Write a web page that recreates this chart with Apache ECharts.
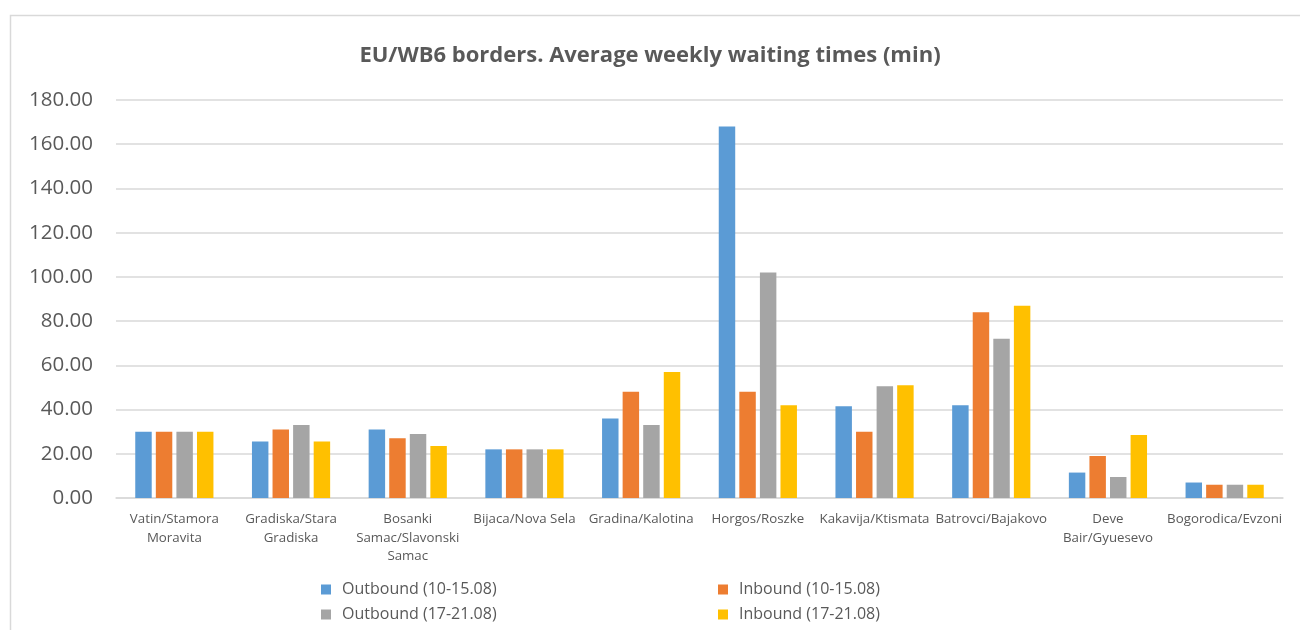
<!DOCTYPE html>
<html>
<head>
<meta charset="utf-8">
<script src="https://cdn.jsdelivr.net/npm/echarts@6/dist/echarts.min.js"></script>
<style>
html,body{margin:0;padding:0;background:#fff;}
#chart{width:1300px;height:630px;}
</style>
</head>
<body>
<div id="chart"></div>
<script>
const categories = ["Vatin/Stamora Moravita","Gradiska/Stara Gradiska","Bosanki Samac/Slavonski Samac","Bijaca/Nova Sela","Gradina/Kalotina","Horgos/Roszke","Kakavija/Ktismata","Batrovci/Bajakovo","Deve Bair/Gyuesevo","Bogorodica/Evzoni"];
const categoryLabels = ["Vatin/Stamora\nMoravita","Gradiska/Stara\nGradiska","Bosanki\nSamac/Slavonski\nSamac","Bijaca/Nova Sela","Gradina/Kalotina","Horgos/Roszke","Kakavija/Ktismata","Batrovci/Bajakovo","Deve\nBair/Gyuesevo","Bogorodica/Evzoni"];
const seriesNames = ["Outbound (10-15.08)","Inbound (10-15.08)","Outbound (17-21.08)","Inbound (17-21.08)"];
const outbound1 = [30, 25.5, 31, 22, 36, 168, 41.5, 42, 11.5, 7];
const inbound1  = [30, 31, 27, 22, 48, 48, 30, 84, 19, 6];
const outbound2 = [30, 33, 29, 22, 33, 102, 50.5, 72, 9.5, 6];
const inbound2  = [30, 25.5, 23.5, 22, 57, 42, 51, 87, 28.5, 6];
const yTicks = [0, 20, 40, 60, 80, 100, 120, 140, 160, 180];
const colors = ["#5b9bd5","#ed7d31","#a5a5a5","#ffc000"];

const seriesData = [outbound1, inbound1, outbound2, inbound2];
const font = "'Open Sans', 'Noto Sans', sans-serif";

const legendBase = {
  orient:'vertical', top:580, height:60, padding:0,
  itemWidth:10, itemHeight:10, itemGap:6, icon:'rect',
  textStyle:{fontFamily:font, fontSize:16, lineHeight:19, color:'#595959', padding:[0,0,0,6]}
};

const chart = echarts.init(document.getElementById('chart'), null, {renderer:'canvas'});
chart.setOption({
  animation:false,
  backgroundColor:'#fff',
  graphic:[{
    type:'rect', left:8, top:13, shape:{width:1320, height:700},
    style:{fill:'none', stroke:'#d9d9d9', lineWidth:1.5}, silent:true, z:-1
  }],
  title:{
    text:'EU/WB6 borders. Average weekly waiting times (min)',
    left:'center', top:40,
    textStyle:{fontFamily:font, fontSize:22, fontWeight:'bold', color:'#595959'}
  },
  grid:{left:116, right:17, top:100, bottom:132, containLabel:false},
  legend:[
    Object.assign({}, legendBase, {data:[seriesNames[0], seriesNames[2]], left:321}),
    Object.assign({}, legendBase, {data:[seriesNames[1], seriesNames[3]], left:718})
  ],
  xAxis:{
    type:'category', data:categories,
    axisLine:{lineStyle:{color:'#d9d9d9', width:1.5}},
    axisTick:{show:false},
    axisLabel:{
      interval:0, fontFamily:font, fontSize:13.3, color:'#595959', lineHeight:18.5, margin:12,
      formatter:(v, i) => categoryLabels[i]
    }
  },
  yAxis:{
    type:'value', min:yTicks[0], max:yTicks[yTicks.length-1], interval:yTicks[1]-yTicks[0],
    axisLine:{show:false}, axisTick:{show:false},
    splitLine:{lineStyle:{color:'#d9d9d9', width:1.5}},
    axisLabel:{fontFamily:font, fontSize:20.5, color:'#595959', margin:23,
      formatter:v => v.toFixed(2)}
  },
  series: seriesNames.map((n, i) => ({
    name:n, type:'bar', data:seriesData[i],
    barGap:'25%', barCategoryGap:'33%',
    itemStyle:{color:colors[i]}
  }))
});
</script>
</body>
</html>
